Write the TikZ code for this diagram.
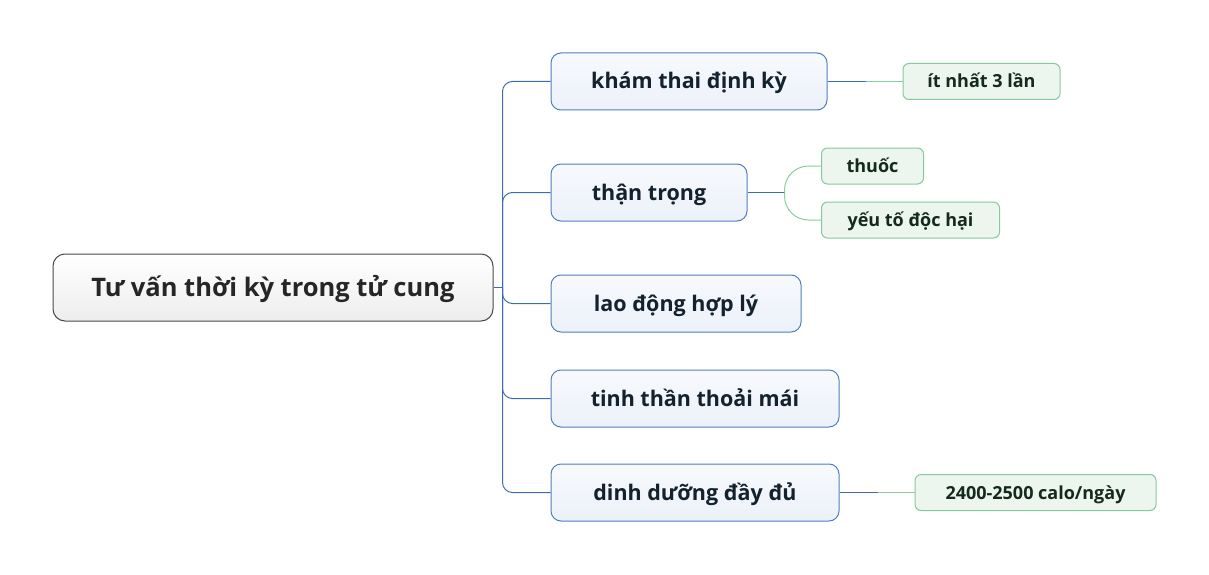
\documentclass[tikz,border=0pt]{standalone}
\usepackage{fontspec}
\setmainfont{Open Sans}
\usepackage{tikz}
\usetikzlibrary{arrows,positioning}

\definecolor{rootborder}{HTML}{4A4A4A}
\definecolor{rootfill}{HTML}{EDEDED}
\definecolor{branchborder}{HTML}{4F7FBE}
\definecolor{branchfill}{HTML}{ECF1F9}
\definecolor{branchline}{HTML}{3D6DAE}
\definecolor{leafborder}{HTML}{86C99E}
\definecolor{leaffill}{HTML}{ECF5EE}
\definecolor{leafline}{HTML}{8ACD9F}
\definecolor{branchtext}{HTML}{14222E}
\definecolor{leaftext}{HTML}{142A1C}

\begin{document}
\begin{tikzpicture}[x=1pt, y=-1pt, auto]
    \tikzset{
      rootnode/.style={rectangle,rounded corners=12pt,draw=rootborder,line width=1pt,top color=white,bottom color=rootfill,minimum height=67pt,inner sep=0pt,font=\fontsize{25.5}{30}\selectfont\bfseries,text=black!85,text height=17pt,text depth=0pt,text centered},
      branchnode/.style={rectangle,rounded corners=10pt,draw=branchborder,line width=1pt,top color=white!60!branchfill,bottom color=branchfill,minimum height=57pt,inner sep=0pt,font=\fontsize{21.5}{26}\selectfont\bfseries,text=branchtext,text height=15pt,text depth=0pt,text centered},
      leafnode/.style={rectangle,rounded corners=6pt,draw=leafborder,line width=1pt,fill=leaffill,minimum height=36pt,inner sep=0pt,font=\fontsize{18}{22}\selectfont\bfseries,text=leaftext,text height=13pt,text depth=0pt,text centered},
      trunk/.style={draw=branchline,line width=1pt,rounded corners=10pt},
      twig/.style={draw=leafline,line width=1pt,rounded corners=24pt}
    }
    \useasboundingbox (0,0) rectangle (1209,575);

    \node[rootnode,minimum width=440pt](root) at (273,287.5){Tư vấn thời kỳ trong tử cung};

    \node[branchnode,minimum width=276pt](checkup) at (689,81.5){khám thai định kỳ};
    \node[branchnode,minimum width=196pt](careful) at (649,192.5){thận trọng};
    \node[branchnode,minimum width=250pt](work) at (676,303.5){lao động hợp lý};
    \node[branchnode,minimum width=288pt](mind) at (695,398.5){tinh thần thoải mái};
    \node[branchnode,minimum width=288pt](food) at (695,492.5){dinh dưỡng đầy đủ};

    \node[leafnode,minimum width=157pt,right=75pt of checkup](times){ít nhất 3 lần};
    \node[leafnode,minimum width=102pt,anchor=west](drugs) at (821,166){thuốc};
    \node[leafnode,minimum width=178pt,anchor=west](harm) at (821,220){yếu tố độc hại};
    \node[leafnode,minimum width=241pt,right=75pt of food](calo){2400-2500 calo/ngày};

    \draw[trunk](root.east) -- ++(9,0) coordinate (hub);
    \foreach \b in {checkup,careful,work,mind,food}
        \draw[trunk](hub) |- (\b.west);

    \draw[trunk](checkup.east) -- ++(38,0) coordinate (jcheckup);
    \draw[twig](jcheckup) -- (times.west);
    \draw[trunk](careful.east) -- ++(37,0) coordinate (jcareful);
    \draw[twig](jcareful) |- (drugs.west);
    \draw[twig](jcareful) |- (harm.west);
    \draw[trunk](food.east) -- ++(38,0) coordinate (jfood);
    \draw[twig](jfood) -- (calo.west);
\end{tikzpicture}
\end{document}
